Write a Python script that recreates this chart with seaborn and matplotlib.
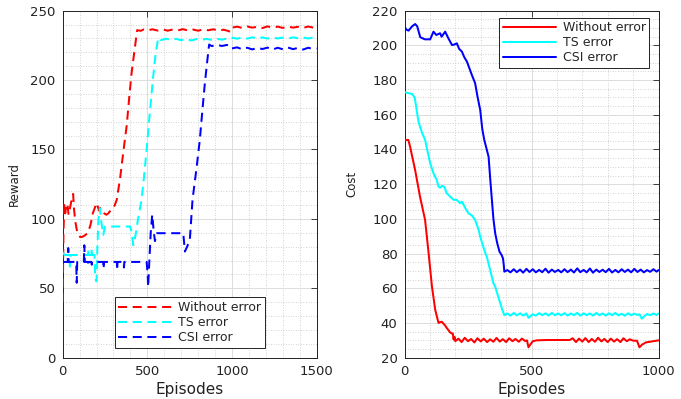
import matplotlib
matplotlib.use("Agg")
import matplotlib.pyplot as plt
import seaborn as sns
import pandas as pd
from matplotlib.ticker import MultipleLocator

# ---------------- data: left panel (Reward) ----------------
rw_red_x = [0, 5, 10, 15, 20, 28, 35, 42, 50, 58, 62, 67, 75, 85, 92, 102, 115, 130, 150, 165, 178, 190,
            200, 207, 215, 222, 232, 245, 258, 270, 282, 295, 308, 320, 340, 360, 378, 395, 407, 425, 440,
            460, 480, 500, 530, 560, 590, 620, 650, 680, 710, 740, 770, 800, 830, 860, 890, 920, 950, 975,
            990, 1000, 1030, 1060, 1090, 1120, 1150, 1180, 1210, 1240, 1270, 1300, 1330, 1360, 1390, 1420,
            1450, 1480, 1500]
rw_red_y = [40, 92, 110, 104, 108, 111, 103, 107, 112, 116, 118, 107, 98, 91, 88.5, 87, 87, 88, 90, 96, 104, 108,
            111.4, 109, 106, 108, 105, 104, 103, 104, 106, 107, 110, 114, 130, 150, 167, 190, 205, 222, 236,
            235.5, 236.5, 235.8, 236.6, 235.7, 236.5, 235.6, 236.4, 235.8, 236.7, 235.7, 236.4, 235.6, 236.5,
            235.9, 236.6, 235.7, 236.3, 235.5, 234.8, 237.8, 238.5, 237.6, 238.6, 237.8, 238.4, 237.5, 238.7,
            237.8, 238.5, 237.6, 238.6, 237.8, 238.4, 237.6, 238.6, 237.8, 238.3]

rw_cyan_x = [0, 8, 15, 40, 43, 46, 80, 120, 150, 152, 154, 170, 172, 174, 188, 192, 196, 200, 205, 212, 220,
             228, 240, 250, 300, 350, 398, 408, 417, 430, 445, 466, 480, 496, 515, 535, 550, 565,
             580, 610, 640, 670, 700, 730, 760, 790, 820, 850, 880, 910, 940, 970, 1000, 1030, 1060, 1090,
             1120, 1150, 1180, 1210, 1240, 1270, 1300, 1330, 1360, 1390, 1420, 1450, 1480, 1500]
rw_cyan_y = [76, 74.5, 74, 74, 65.7, 74, 74, 74, 74, 78, 74, 74, 79, 74, 74, 60, 56, 55, 80, 100, 107.8,
             98, 88.5, 94.5, 94.5, 94.5, 94.5, 90, 81, 88, 100, 114, 130, 150, 177, 203, 220, 230.5,
             228.8, 229.8, 228.9, 229.7, 228.7, 229.6, 228.5, 229.6, 228.9, 229.7, 229.0, 229.8, 229.1,
             229.9, 230.6, 229.8, 230.7, 229.9, 230.8, 230.0, 230.7, 229.9, 230.8, 230.0, 230.6, 229.9,
             230.8, 230.1, 230.7, 230.0, 230.6, 230.3]

rw_blue_x = [0, 30, 33, 36, 80, 83, 86, 125, 128, 131, 150, 152, 154, 170, 172, 174, 240, 242, 244, 320, 322,
             324, 360, 362, 364, 496, 502, 505, 510, 520, 529, 537, 545, 551, 557, 600, 650, 712, 718, 722,
             735, 751, 767, 790, 810, 825, 840, 855, 865,
             880, 910, 940, 970, 990, 1000, 1030, 1060, 1090, 1120, 1150, 1180, 1210, 1240, 1270, 1300,
             1330, 1360, 1390, 1420, 1450, 1480, 1500]
rw_blue_y = [69, 69, 79, 69, 69, 54, 69, 69, 81, 69, 69, 66, 69, 69, 67, 69, 69, 64, 69, 69, 63,
             69, 69, 65, 69, 69, 60, 51, 65, 90, 103, 92, 84, 87, 89.7, 89.7, 89.7, 89.7, 82, 76.5,
             80, 85, 114, 136, 157, 178, 198, 215, 225.6,
             224.5, 225.4, 224.6, 225.3, 224.8, 222.8, 223.6, 222.2, 223.3, 222.1, 223.2, 222.4, 223.4,
             222.0, 223.3, 222.2, 223.5, 222.3, 223.2, 222.0, 223.3, 222.4, 222.8]

# ---------------- data: right panel (Cost) ----------------
c_red_x = [0, 15, 22, 42, 61, 81, 95, 108, 121, 134, 140, 147, 160, 167, 180, 186, 190, 193, 197, 200,
           212, 225, 237, 250, 262, 275, 287, 300, 312, 325, 337, 350, 362, 375, 387, 400, 412, 425, 437,
           450, 462, 475, 482, 488, 495, 505, 520, 560, 600, 650, 662, 675, 687, 700, 712, 725, 737, 750,
           762, 775, 787, 800, 812, 825, 837, 850, 862, 875, 887, 900, 915, 925, 935, 950, 975, 1000]
c_red_y = [145.5, 145.5, 141.6, 128, 112.8, 99.4, 80, 61, 47.5, 40, 40.5, 40.7, 38.5, 37, 34.5, 34, 34, 30.5,
           32, 29.5, 31, 29, 31.5, 29.5, 30.8, 28.8, 31.2, 29.4, 31, 29, 30.6, 29.2, 31.4, 29.3, 30.7, 29,
           31.2, 29.5, 30.8, 29.2, 31, 29.6, 30, 26, 27.5, 29.5, 30, 30.2, 30.2, 30.2, 31.2, 29, 31, 29.3,
           31.3, 29, 30.8, 29.2, 31.5, 29.4, 30.8, 29, 31, 29.3, 30.7, 29, 31.2, 29.5, 30.6, 29.8, 29.8,
           26, 27.5, 28.8, 29.4, 30]

c_cyan_x = [0, 29, 40, 55, 68, 81, 101, 115, 127, 134, 140, 148, 154, 158, 165, 173, 180, 193, 205, 219, 226,
            240, 252, 265, 278, 292, 298, 310, 318, 324, 338, 350, 357, 365, 377, 384, 390, 393,
            405, 417, 430, 442, 455, 467, 480, 488, 495, 505, 517, 530, 542, 555, 567, 580, 592, 605, 617,
            630, 642, 655, 667, 680, 692, 705, 717, 730, 742, 755, 767, 780, 792, 805, 817, 830, 842, 855,
            867, 880, 892, 905, 917, 925, 934, 945, 955, 967, 980, 992, 1000]
c_cyan_y = [173, 172, 170, 156, 150, 145.5, 132, 126, 122.4, 118.6, 118, 119, 118.6, 118.2, 115, 113.8, 112.8,
            111, 111, 109, 110, 106, 103.2, 102, 99.4, 93.6, 89.7, 84, 80.2, 78.2, 70, 62.9, 61, 57, 51.4,
            48, 45.6, 44.5,
            45.5, 44.2, 45.8, 44.4, 45.6, 44.3, 45.5, 43, 43.8, 45, 44.3, 45.7, 44.5, 45.6, 44.3, 45.8, 44.5,
            45.5, 44.4, 45.7, 44.3, 45.5, 44.5, 45.8, 44.2, 45.6, 44.5, 45.5, 44.2, 45.8, 44.5, 45.5, 44.3,
            45.6, 44.5, 45.8, 44.4, 45.3, 44.2, 45.6, 44.5, 45.4, 44.6, 45, 42.5, 44, 45.2, 44.5, 45.5,
            44.6, 45.5]

c_blue_x = [0, 8, 16, 30, 42, 50, 62, 80, 101, 114, 125, 140, 146, 160, 173, 187, 196, 206, 215, 226, 236,
            246, 255, 265, 278, 288, 298, 306, 314, 322, 331, 338, 344, 350, 357, 365, 374, 383, 388, 391,
            393, 405, 417, 430, 442, 455, 467, 480, 492, 505, 517, 530, 542, 555, 567, 580, 592, 605, 617,
            630, 642, 655, 667, 680, 692, 705, 717, 730, 742, 755, 767, 780, 792, 805, 817, 830, 842, 855,
            867, 880, 892, 905, 917, 930, 942, 955, 967, 980, 992, 1000]
c_blue_y = [210.8, 209, 208.5, 211, 212.3, 211, 204.7, 203.5, 203.5, 207.9, 206, 207, 205, 207.9, 204, 200.2,
            200.5, 201.2, 198, 196.4, 193, 190.6, 187, 183, 178.2, 170, 162.8, 152, 145.5, 141, 135.8, 122,
            110.9, 100, 91.7, 86, 81.1, 79, 77, 73, 69.6,
            70.5, 69.2, 71, 69.3, 70.8, 69, 71.2, 69.4, 71, 69.2, 70.6, 69.3, 71.3, 69, 70.8, 69.4, 70.6,
            69.2, 71, 69.3, 70.8, 69.1, 71.5, 69.3, 70.6, 69.2, 71.4, 69, 70.8, 69.4, 70.7, 69.3, 71.2,
            69.1, 70.6, 69.2, 71, 69.4, 70.8, 69.2, 71.2, 69.4, 70.8, 69.2, 70.5, 69.5, 71, 69.6, 70.5]

series_names = ["Without error", "TS error", "CSI error"]
series_colors = ["#ff0000", "#00ffff", "#0000ff"]

reward_series = [(rw_red_x, rw_red_y), (rw_cyan_x, rw_cyan_y), (rw_blue_x, rw_blue_y)]
cost_series = [(c_red_x, c_red_y), (c_cyan_x, c_cyan_y), (c_blue_x, c_blue_y)]

left_xticks = [0, 500, 1000, 1500]
left_yticks = [0, 50, 100, 150, 200, 250]
right_xticks = [0, 500, 1000]
right_yticks = [20, 40, 60, 80, 100, 120, 140, 160, 180, 200, 220]

# ---------------- styling ----------------
sns.set_style("white")
plt.rcParams["font.family"] = ["DejaVu Sans"]
plt.rcParams["axes.linewidth"] = 0.7

fig = plt.figure(figsize=(6.81, 3.99), dpi=100)
axL = fig.add_axes([0.092, 0.1035, 0.373, 0.8697])
axR = fig.add_axes([0.594, 0.1035, 0.373, 0.8697])


def make_df(series):
    frames = []
    for name, (xs, ys) in zip(series_names, series):
        frames.append(pd.DataFrame({"Episodes": xs, "val": ys, "series": name}))
    return pd.concat(frames, ignore_index=True)


dfL = make_df(reward_series)
dfR = make_df(cost_series)

for name, col in zip(series_names, series_colors):
    sub = dfL[dfL["series"] == name]
    sns.lineplot(data=sub, x="Episodes", y="val", ax=axL, color=col, lw=1.45,
                 linestyle=(0, (4.5, 2.8)), sort=False, estimator=None, label=name, zorder=3)
    sub = dfR[dfR["series"] == name]
    sns.lineplot(data=sub, x="Episodes", y="val", ax=axR, color=col, lw=1.45,
                 linestyle="-", sort=False, estimator=None, label=name, zorder=3)


def style_axes(ax, xlim, ylim, xticks, yticks, xminor, yminor, ylabel, ylpad):
    ax.set_xlim(*xlim)
    ax.set_ylim(*ylim)
    ax.set_xticks(xticks)
    ax.set_yticks(yticks)
    ax.xaxis.set_minor_locator(MultipleLocator(xminor))
    ax.yaxis.set_minor_locator(MultipleLocator(yminor))
    ax.grid(True, which="major", color="#dcdcdc", lw=0.7, ls="-", zorder=0)
    ax.grid(True, which="minor", color="#c4c4c4", lw=0.6, ls=(0, (1, 2)), zorder=0)
    ax.set_axisbelow(True)
    ax.tick_params(which="major", direction="in", top=True, right=True, length=4, width=0.6,
                   labelsize=9.5, colors="#222222")
    ax.tick_params(axis="y", which="major", pad=5)
    ax.tick_params(axis="x", which="major", pad=5)
    ax.tick_params(which="minor", length=0)
    for sp in ax.spines.values():
        sp.set_visible(True)
        sp.set_color("#222222")
        sp.set_linewidth(0.7)
    ax.set_xlabel("Episodes", fontsize=11, labelpad=3, color="#222222")
    ax.set_ylabel(ylabel, fontsize=8.5, labelpad=ylpad, color="#222222")


style_axes(axL, (0, 1500), (0, 250), left_xticks, left_yticks, 100, 10, "Reward", 7)
style_axes(axR, (0, 1000), (20, 220), right_xticks, right_yticks, 100, 5, "Cost", 10)

legkw = dict(fontsize=9, frameon=True, fancybox=False, edgecolor="#222222", framealpha=1,
             borderpad=0.3, labelspacing=0.15, handlelength=4.3, handletextpad=0.5,
             bbox_transform=fig.transFigure, loc="center")
legL = axL.legend(bbox_to_anchor=(0.279, 0.1917), **legkw)
legR = axR.legend(bbox_to_anchor=(0.8431, 0.8926), **legkw)
for lg in (legL, legR):
    lg.get_frame().set_linewidth(0.7)

fig.savefig("out.png", dpi=100)
